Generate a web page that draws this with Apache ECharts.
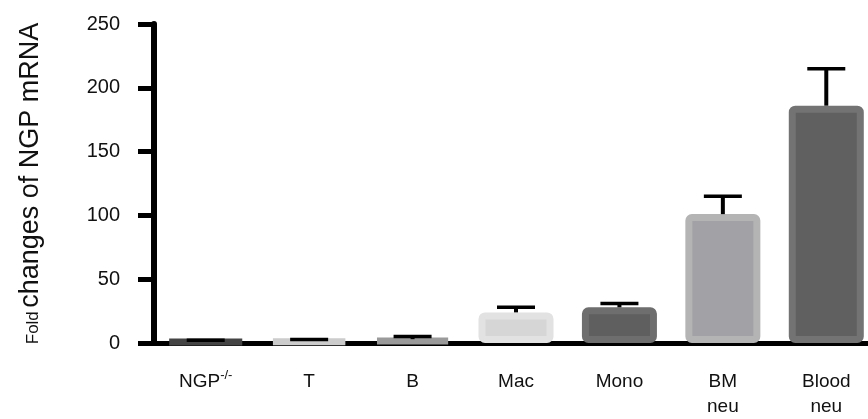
<!DOCTYPE html>
<html>
<head>
<meta charset="utf-8">
<script src="https://cdn.jsdelivr.net/npm/echarts@6/dist/echarts.min.js"></script>
<style>
html,body{margin:0;padding:0;background:#fff;overflow:hidden;width:868px;height:419px;}
#chart{width:878px;height:419px;}
</style>
</head>
<body>
<div id="chart"></div>
<script>
var categories = ['NGP-/-', 'T', 'B', 'Mac', 'Mono', 'BM\nneu', 'Blood\nneu'];
var values = [1.5, 2, 3, 24, 28, 101, 186];
var errors = [0.6, 0.8, 2, 4, 3, 14, 29];
var yTicks = [0, 50, 100, 150, 200, 250];
var fillColors = ['#3a3a3a', '#c4c4c4', '#8e8e8e', '#d6d6d6', '#5f5f5f', '#a2a2a6', '#606060'];
var edgeColors = ['#444444', '#cccccc', '#9a9a9a', '#e2e2e2', '#6e6e6e', '#b4b4b4', '#737373'];

var chart = echarts.init(document.getElementById('chart'), null, {renderer: 'canvas'});
var FONT = 'Liberation Sans, Arial, sans-serif';

var barData = values.map(function (v, i) {
  return {
    value: v,
    itemStyle: {color: fillColors[i], borderColor: edgeColors[i], borderWidth: 7, borderRadius: 3}
  };
});
var errData = values.map(function (v, i) { return [i, v, errors[i]]; });

chart.setOption({
  animation: false,
  backgroundColor: '#fff',
  grid: {left: 154, right: 0, top: 24, bottom: 74, containLabel: false},
  xAxis: {
    type: 'category',
    data: categories,
    axisLine: {lineStyle: {color: '#000', width: 5}},
    axisTick: {alignWithLabel: true, length: 11, lineStyle: {color: '#000', width: 6}},
    axisLabel: {
      color: '#111', fontSize: 19, fontFamily: FONT, margin: 26, lineHeight: 25, interval: 0,
      formatter: function (v) {
        if (v === 'NGP-/-') return 'NGP{sup|-/-}';
        return v;
      },
      rich: {sup: {fontSize: 13, verticalAlign: 'top', color: '#111', fontFamily: FONT, padding: [0, 0, 8, 0]}}
    }
  },
  yAxis: {
    type: 'value',
    min: 0, max: 250, interval: 50,
    splitLine: {show: false},
    axisLine: {show: true, lineStyle: {color: '#000', width: 6}},
    axisTick: {show: true, length: 16, lineStyle: {color: '#000', width: 5}},
    axisLabel: {color: '#111', fontSize: 20, fontFamily: FONT, margin: 34,
      formatter: function (v) { return yTicks.indexOf(v) >= 0 ? String(v) : ''; }},
    name: '{s|Fold} {b|changes of NGP mRNA}',
    nameLocation: 'middle',
    nameRotate: 90,
    nameGap: 110,
    nameTextStyle: {
      rich: {
        s: {fontSize: 17, fontFamily: FONT, color: '#111', verticalAlign: 'bottom', padding: [0, 0, 2, 0]},
        b: {fontSize: 27, fontFamily: FONT, color: '#111', verticalAlign: 'bottom'}
      }
    }
  },
  series: [
    {
      type: 'bar',
      data: barData,
      barWidth: 75,
      z: 2
    },
    {
      type: 'custom',
      data: errData,
      z: 5,
      renderItem: function (params, api) {
        var i = api.value(0), v = api.value(1), e = api.value(2);
        var p0 = api.coord([i, v]);
        var p1 = api.coord([i, v + e]);
        var half = 19;
        return {
          type: 'group',
          children: [
            {type: 'line', shape: {x1: p0[0], y1: p0[1], x2: p1[0], y2: p1[1]}, style: {stroke: '#000', lineWidth: 4}},
            {type: 'line', shape: {x1: p1[0] - half, y1: p1[1], x2: p1[0] + half, y2: p1[1]}, style: {stroke: '#000', lineWidth: 3.5}}
          ]
        };
      }
    }
  ]
});
</script>
</body>
</html>
